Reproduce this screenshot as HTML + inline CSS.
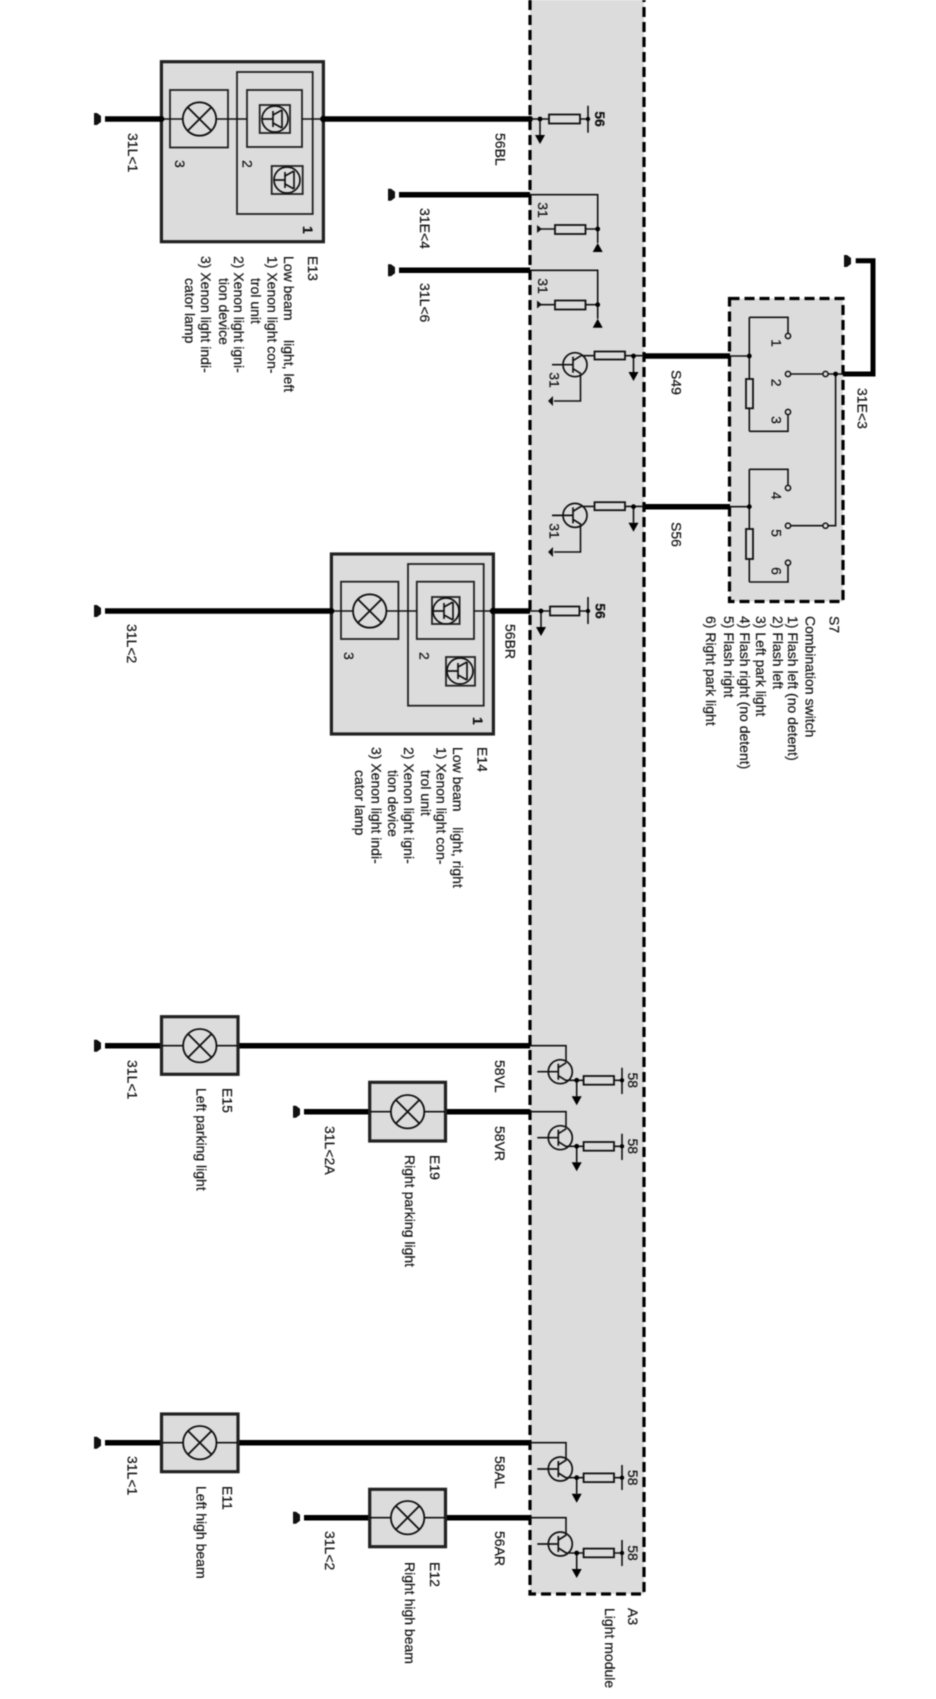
<!DOCTYPE html>
<html lang="en">
<head>
<meta charset="utf-8">
<title>Light module wiring diagram</title>
<style>
html,body{margin:0;padding:0;background:#fff;width:936px;height:1699px;overflow:hidden}
svg{display:block;filter:blur(0.4px)}
text{font-family:"Liberation Sans",sans-serif;font-size:14px;fill:#111;stroke:#111;stroke-width:.2}
.b{font-weight:bold}
.thick{stroke:#000;stroke-width:5.5;fill:none}
.thin{stroke:#111;stroke-width:1.6;fill:none}
.box{fill:#dcdcdc;stroke:#222;stroke-width:3.2}
.in{fill:none;stroke:#222;stroke-width:1.8}
.dash{stroke:#000;stroke-width:3.2;fill:none;stroke-dasharray:10 5}
.res{fill:#dcdcdc;stroke:#111;stroke-width:1.8}
</style>
</head>
<body>
<svg xmlns="http://www.w3.org/2000/svg" width="936" height="1699" viewBox="0 0 936 1699">
<defs>
  <g id="term"><polygon points="-7,-6 -7,6 -4,6 0,3 0,-3 -4,-6" fill="#111"/></g>
  <g id="lamp">
    <circle r="16.7" fill="#dcdcdc" stroke="#111" stroke-width="1.8"/>
    <path d="M-11.8,-11.8L11.8,11.8M-11.8,11.8L11.8,-11.8" stroke="#111" stroke-width="1.8"/>
  </g>
  <g id="tr">
    <circle r="12" fill="none" stroke="#111" stroke-width="1.7"/>
    <path d="M-23,0H-2M-2,-8V8M-2,-4L6,-9M-2,4L6,9" stroke="#111" stroke-width="1.7" fill="none"/>
  </g>
  <g id="tsm">
    <circle r="13" fill="none" stroke="#111" stroke-width="1.7"/>
    <path d="M-13,0H-2M-2,-8V8M-2,-4L7,-9M-2,4L7,9M7,-9V9" stroke="#111" stroke-width="1.7" fill="none"/>
  </g>
  <g id="down"><path d="M0,0V16" class="thin"/><polygon points="-5,16 5,16 0,25" fill="#000"/><circle r="2.4" fill="#000"/></g>
  <g id="up"><path d="M0,0V14" class="thin"/><polygon points="-5,23 5,23 0,14" fill="#000"/><circle r="2.4" fill="#000"/></g>
  <g id="sw">
    <circle r="2.6" fill="#dcdcdc" stroke="#111" stroke-width="1.5"/>
  </g>
</defs>

<!-- Light module panel -->
<rect x="530" y="0" width="114" height="1594" fill="#dcdcdc"/>
<path d="M530,0V1594H644V0" class="dash"/>

<!-- S7 panel -->
<rect x="729.5" y="298.5" width="113.5" height="303" fill="#dcdcdc"/>
<rect x="729.5" y="298.5" width="113.5" height="303" class="dash"/>

<!-- E13 -->
<use href="#term" x="101" y="119"/>
<path d="M105,119H161M323,119H530" class="thick"/>
<rect x="161.4" y="61.7" width="162" height="180" class="box"/>
<rect x="237" y="72" width="75.7" height="142" class="in"/>
<rect x="170" y="90" width="58" height="57.5" class="in"/>
<rect x="247" y="90" width="55" height="57" class="in"/>
<rect x="259.7" y="105" width="30.3" height="28" class="in"/>
<rect x="271.7" y="166" width="31" height="28" class="in"/>
<path d="M161,119H183M216,119H247M302,119H323" class="thin"/>
<use href="#lamp" x="199.5" y="119"/>
<use href="#tsm" x="275" y="119"/>
<use href="#tsm" x="287" y="180"/>
<circle cx="161.4" cy="119" r="3" fill="#000"/><circle cx="323.3" cy="119" r="3.2" fill="#000"/>
<circle cx="530" cy="119" r="3" fill="#000"/>

<!-- fuse row 56 top -->
<path d="M530,119H549M580,119H588M588,105.7V132.7" class="thin"/>
<rect x="549" y="114.5" width="31" height="9" class="res"/>
<use href="#down" x="540" y="119"/>
<circle cx="588" cy="119" r="2.2" fill="#000"/>

<!-- 31E<4 -->
<use href="#term" x="395" y="194.7"/>
<path d="M399,194.7H530" class="thick"/>
<path d="M530,194.7H597.7V229M585.5,229H597.7M538,229H555" class="thin"/>
<rect x="555" y="225" width="30.5" height="9" class="res"/>
<use href="#up" x="597.7" y="229"/>
<polygon points="537,225 537,233 542,229" fill="#111"/>

<!-- 31L<6 -->
<use href="#term" x="395" y="270.3"/>
<path d="M399,270.3H530" class="thick"/>
<path d="M530,270.3H597.7V304.7M585.5,304.7H597.7M538,304.7H555" class="thin"/>
<rect x="555" y="300.5" width="30.5" height="9" class="res"/>
<use href="#up" x="597.7" y="304.7"/>
<polygon points="537,300.5 537,308.5 542,304.5" fill="#111"/>

<!-- transistor S49 -->
<use href="#tr" x="575" y="364.7"/>
<path d="M581,355.7H594.5M625,355.7H644M580.5,373.7V401H554" class="thin"/>
<rect x="594.5" y="351.5" width="30.5" height="8" class="res"/>
<use href="#down" x="633.5" y="356"/>
<polygon points="553,396 553,406 548,401" fill="#111"/>
<path d="M644,356H730" class="thick"/>

<!-- transistor S56 -->
<use href="#tr" x="575" y="515.4"/>
<path d="M581,506.4H594.5M625,506.4H644M580.5,524.4V552H554" class="thin"/>
<rect x="594.5" y="502.2" width="30.5" height="8" class="res"/>
<use href="#down" x="633.5" y="506.7"/>
<polygon points="553,547 553,557 548,552" fill="#111"/>
<path d="M644,506.7H730" class="thick"/>

<!-- S7 internals -->
<path d="M730,356H749.3M749.3,317.3V379M749.3,408.3V431.3M749.3,317.3H788V333.5M749.3,431.3H788V414.5" class="thin"/>
<rect x="746" y="379" width="7" height="29.3" class="res"/>
<circle cx="749.3" cy="356" r="2.4" fill="#000"/>
<use href="#sw" x="788" y="336"/><use href="#sw" x="788" y="412"/>
<path d="M790.6,374H823M828,374H843M835.6,374V525.7H828M790.6,525.7H823" class="thin"/>
<use href="#sw" x="788" y="374"/><use href="#sw" x="825.5" y="374"/>
<use href="#sw" x="788" y="525.7"/><use href="#sw" x="825.5" y="525.7"/>
<circle cx="835.6" cy="374" r="2.4" fill="#000"/>
<path d="M730,506.7H749.3M749.3,469.3V529M749.3,559V582M749.3,469.3H788V485.5M749.3,582H788V565.2" class="thin"/>
<rect x="746" y="529" width="7" height="30" class="res"/>
<circle cx="749.3" cy="506.7" r="2.4" fill="#000"/>
<use href="#sw" x="788" y="488"/><use href="#sw" x="788" y="562.7"/>
<path d="M843,374H873V260.7H855.7" fill="none" stroke="#000" stroke-width="5"/>
<use href="#term" x="851" y="261"/>

<!-- E14 -->
<use href="#term" x="101" y="611"/>
<path d="M105,611H331M493,611H530" class="thick"/>
<rect x="331.4" y="554" width="162" height="180" class="box"/>
<rect x="408" y="564" width="75.7" height="141.7" class="in"/>
<rect x="341" y="581.7" width="57.4" height="57.3" class="in"/>
<rect x="416.8" y="581.7" width="57.2" height="57.3" class="in"/>
<rect x="432" y="597" width="27.6" height="27" class="in"/>
<rect x="446" y="657" width="29" height="28.7" class="in"/>
<path d="M331,611H353M386,611H417M474,611H493" class="thin"/>
<use href="#lamp" x="369.7" y="611"/>
<use href="#tsm" x="446" y="611"/>
<use href="#tsm" x="460" y="671"/>
<circle cx="331.4" cy="611" r="3" fill="#000"/><circle cx="493" cy="611" r="3.2" fill="#000"/>

<!-- fuse row 56 mid -->
<path d="M530,611H550M579.4,611H588M588,597V624" class="thin"/>
<rect x="550" y="606.5" width="29.4" height="9" class="res"/>
<use href="#down" x="541" y="611"/>
<circle cx="588" cy="611" r="2.2" fill="#000"/>

<!-- E15 -->
<use href="#term" x="101" y="1045.7"/>
<path d="M105,1045.7H162M238,1045.7H530" class="thick"/>
<rect x="161.5" y="1016.7" width="76.5" height="57.6" class="box"/>
<path d="M162,1045.7H238" class="thin"/>
<use href="#lamp" x="199.8" y="1045.7"/>
<path d="M530,1045.7H566V1062M566,1080.3H583.6M614,1080.3H622M622,1067.7V1094" class="thin"/>
<use href="#tr" x="560.3" y="1071.7"/>
<rect x="583.6" y="1076" width="30.4" height="8.7" class="res"/>
<use href="#down" x="576.7" y="1080.3"/>
<circle cx="622" cy="1080.3" r="2.2" fill="#000"/>

<!-- E19 -->
<use href="#term" x="300" y="1111.7"/>
<path d="M304,1111.7H370M445,1111.7H530" class="thick"/>
<rect x="369.7" y="1082.3" width="75.8" height="58.7" class="box"/>
<path d="M370,1111.7H445" class="thin"/>
<use href="#lamp" x="407.6" y="1111.7"/>
<path d="M530,1111.7H566V1128M566,1146.3H583.6M614,1146.3H622M622,1133.7V1160" class="thin"/>
<use href="#tr" x="560.3" y="1137.7"/>
<rect x="583.6" y="1142" width="30.4" height="8.7" class="res"/>
<use href="#down" x="576.7" y="1146.3"/>
<circle cx="622" cy="1146.3" r="2.2" fill="#000"/>

<!-- E11 -->
<use href="#term" x="101" y="1442.7"/>
<path d="M105,1442.7H162M238,1442.7H530" class="thick"/>
<rect x="161.5" y="1414" width="76.5" height="57.7" class="box"/>
<path d="M162,1442.7H238" class="thin"/>
<use href="#lamp" x="199.8" y="1442.7"/>
<path d="M530,1442.7H566V1460M566,1477.7H583.6M614,1477.7H622M622,1465V1490" class="thin"/>
<use href="#tr" x="560.3" y="1469"/>
<rect x="583.6" y="1473.4" width="30.4" height="8.7" class="res"/>
<use href="#down" x="576.7" y="1477.7"/>
<circle cx="622" cy="1477.7" r="2.2" fill="#000"/>

<!-- E12 -->
<use href="#term" x="300" y="1517.7"/>
<path d="M304,1517.7H370M445,1517.7H530" class="thick"/>
<rect x="369.7" y="1489.3" width="75.8" height="57.4" class="box"/>
<path d="M370,1517.7H445" class="thin"/>
<use href="#lamp" x="407.6" y="1517.7"/>
<path d="M530,1517.7H566V1535M566,1553H583.6M614,1553H622M622,1540V1566" class="thin"/>
<use href="#tr" x="560.3" y="1544"/>
<rect x="583.6" y="1548.6" width="30.4" height="8.7" class="res"/>
<use href="#down" x="576.7" y="1553"/>
<circle cx="622" cy="1553" r="2.2" fill="#000"/>

<!-- Labels -->
<g>
<text transform="translate(128,133) rotate(90)">31L&lt;1</text>
<text transform="translate(495.5,133) rotate(90)">56BL</text>
<text transform="translate(175,160) rotate(90)">3</text>
<text transform="translate(242.5,160) rotate(90)">2</text>
<text transform="translate(303,226) rotate(90)" class="b">1</text>
<text transform="translate(308,256) rotate(90)">E13</text>
<text transform="translate(284,256) rotate(90)">Low beam&#160;&#160;&#160;&#160; light, left</text>
<text transform="translate(267.4,256) rotate(90)">1) Xenon light con-</text>
<text transform="translate(251,278) rotate(90)">trol unit</text>
<text transform="translate(234,256) rotate(90)">2) Xenon light igni-</text>
<text transform="translate(219,278) rotate(90)">tion device</text>
<text transform="translate(201,256) rotate(90)">3) Xenon light indi-</text>
<text transform="translate(185,278) rotate(90)">cator lamp</text>

<text transform="translate(420,208) rotate(90)">31E&lt;4</text>
<text transform="translate(420,283) rotate(90)">31L&lt;6</text>
<text transform="translate(595,119) rotate(90)" class="b" text-anchor="middle">56</text>
<text transform="translate(538,210) rotate(90)" text-anchor="middle">31</text>
<text transform="translate(538,286) rotate(90)" text-anchor="middle">31</text>
<text transform="translate(549.5,380) rotate(90)" text-anchor="middle">31</text>
<text transform="translate(549.5,531) rotate(90)" text-anchor="middle">31</text>

<text transform="translate(671.5,370) rotate(90)">S49</text>
<text transform="translate(671.5,522) rotate(90)">S56</text>
<text transform="translate(857.4,388) rotate(90)">31E&lt;3</text>
<text transform="translate(771.5,343) rotate(90)" text-anchor="middle">1</text>
<text transform="translate(771.5,382.7) rotate(90)" text-anchor="middle">2</text>
<text transform="translate(771.5,420) rotate(90)" text-anchor="middle">3</text>
<text transform="translate(771.5,495.7) rotate(90)" text-anchor="middle">4</text>
<text transform="translate(771.5,533) rotate(90)" text-anchor="middle">5</text>
<text transform="translate(771.5,571) rotate(90)" text-anchor="middle">6</text>
<text transform="translate(829.6,616) rotate(90)">S7</text>
<text transform="translate(805.4,616) rotate(90)">Combination switch</text>
<text transform="translate(788,616) rotate(90)">1) Flash left (no detent)</text>
<text transform="translate(773,616) rotate(90)">2) Flash left</text>
<text transform="translate(756,616) rotate(90)">3) Left park light</text>
<text transform="translate(740,616) rotate(90)">4) Flash right (no detent)</text>
<text transform="translate(724,616) rotate(90)">5) Flash right</text>
<text transform="translate(706,616) rotate(90)">6) Right park light</text>

<text transform="translate(127,624) rotate(90)">31L&lt;2</text>
<text transform="translate(505.5,624) rotate(90)">56BR</text>
<text transform="translate(344,652) rotate(90)">3</text>
<text transform="translate(419.4,652) rotate(90)">2</text>
<text transform="translate(473,717) rotate(90)" class="b">1</text>
<text transform="translate(595.5,611) rotate(90)" class="b" text-anchor="middle">56</text>
<text transform="translate(477.6,747) rotate(90)">E14</text>
<text transform="translate(453,747) rotate(90)">Low beam&#160;&#160;&#160; light, right</text>
<text transform="translate(436.6,747) rotate(90)">1) Xenon light con-</text>
<text transform="translate(421,770) rotate(90)">trol unit</text>
<text transform="translate(404,747) rotate(90)">2) Xenon light igni-</text>
<text transform="translate(388,770) rotate(90)">tion device</text>
<text transform="translate(371.6,747) rotate(90)">3) Xenon light indi-</text>
<text transform="translate(355,770) rotate(90)">cator lamp</text>

<text transform="translate(127.4,1060) rotate(90)">31L&lt;1</text>
<text transform="translate(222.3,1088) rotate(90)">E15</text>
<text transform="translate(196.7,1088) rotate(90)">Left parking light</text>
<text transform="translate(495,1060) rotate(90)">58VL</text>
<text transform="translate(495,1126) rotate(90)">58VR</text>
<text transform="translate(325,1126) rotate(90)">31L&lt;2A</text>
<text transform="translate(430,1155) rotate(90)">E19</text>
<text transform="translate(405,1155) rotate(90)">Right parking light</text>
<text transform="translate(628,1080.3) rotate(90)" text-anchor="middle">58</text>
<text transform="translate(628,1146.3) rotate(90)" text-anchor="middle">58</text>

<text transform="translate(127.4,1456) rotate(90)">31L&lt;1</text>
<text transform="translate(222.3,1486) rotate(90)">E11</text>
<text transform="translate(196.7,1486) rotate(90)">Left high beam</text>
<text transform="translate(495,1456) rotate(90)">58AL</text>
<text transform="translate(495,1531) rotate(90)">56AR</text>
<text transform="translate(325,1531) rotate(90)">31L&lt;2</text>
<text transform="translate(430,1562) rotate(90)">E12</text>
<text transform="translate(405,1562) rotate(90)">Right high beam</text>
<text transform="translate(628,1477.7) rotate(90)" text-anchor="middle">58</text>
<text transform="translate(628,1553) rotate(90)" text-anchor="middle">58</text>
<text transform="translate(628,1608) rotate(90)">A3</text>
<text transform="translate(605,1608) rotate(90)">Light module</text>
</g>
</svg>
</body>
</html>
